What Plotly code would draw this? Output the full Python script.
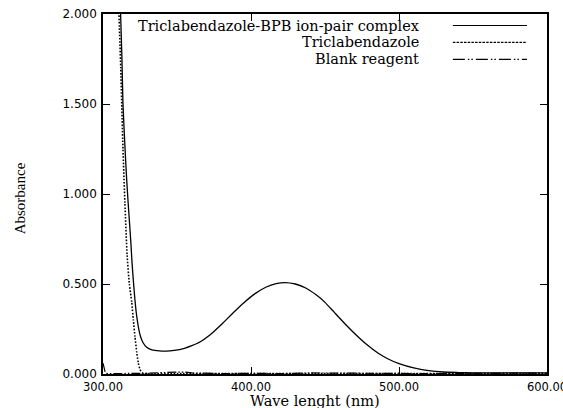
import plotly.graph_objects as go

# ---------------- data ----------------
complex_nm = [310.2, 311.0, 311.9, 312.8, 313.5, 314.9, 316.0, 317.0, 318.0, 318.9,
              319.6, 320.5, 321.6, 322.8, 324.3, 325.4, 327.0, 329.5, 333.0, 338.0,
              343.0, 348.0, 355.0, 360.0, 365.5, 372.0, 380.0, 387.8, 395.0, 403.0,
              410.0, 417.0, 423.0, 430.0, 437.0, 444.0, 450.0, 456.0, 462.0, 470.0,
              478.0, 486.0, 493.0, 500.0, 510.0, 520.0, 530.0, 540.0, 550.0, 570.0,
              590.0, 600.0]
complex_abs = [2.60, 2.30, 2.00, 1.75, 1.50, 1.25, 1.08, 0.95, 0.83, 0.72,
               0.62, 0.52, 0.41, 0.32, 0.244, 0.207, 0.175, 0.148, 0.134, 0.128,
               0.127, 0.131, 0.143, 0.158, 0.178, 0.215, 0.275, 0.339, 0.395, 0.448,
               0.482, 0.502, 0.508, 0.500, 0.478, 0.440, 0.398, 0.345, 0.292, 0.225,
               0.165, 0.115, 0.082, 0.058, 0.034, 0.019, 0.011, 0.008, 0.006, 0.006,
               0.006, 0.006]

tcbz_nm = [309.6, 310.8, 312.0, 313.5, 314.8, 316.3, 317.8, 319.4, 320.5, 321.6,
           322.8, 323.9, 325.0, 326.5, 330.0, 350.0, 400.0, 450.0, 500.0, 550.0, 600.0]
tcbz_abs = [2.40, 2.00, 1.70, 1.25, 0.95, 0.66, 0.50, 0.40, 0.30, 0.207,
            0.120, 0.060, 0.025, 0.006, 0.002, 0.002, 0.002, 0.002, 0.002, 0.002, 0.002]

blank_nm = [300.0, 300.7, 301.5, 303.0, 320.0, 330.0, 340.0, 345.0, 350.0, 355.0,
            360.0, 370.0, 380.0, 400.0, 420.0, 440.0, 460.0, 480.0, 500.0, 520.0,
            540.0, 560.0, 580.0, 590.0, 600.0]
blank_abs = [0.060, 0.030, 0.008, 0.002, 0.001, 0.004, 0.008, 0.010, 0.012, 0.011,
             0.006, 0.003, 0.002, 0.004, 0.002, 0.006, 0.004, 0.003, 0.004, 0.002,
             0.003, 0.004, 0.006, 0.008, 0.005]

x_ticks = [300, 400, 500, 600]
y_ticks = [0.0, 0.5, 1.0, 1.5, 2.0]

legend_names = ["Triclabendazole-BPB ion-pair complex", "Triclabendazole", "Blank reagent"]

# ---------------- styles ----------------
dash_dot = "1.6px,1.6px"
dash_blank = "9px,2px,1.5px,2px,1.5px,2px"
legend_dashes = ["solid", "2.5px,1.2px", "12px,3px,1.5px,2px,1.5px,3px"]

fig = go.Figure()
fig.add_trace(go.Scatter(x=complex_nm, y=complex_abs, mode="lines",
                         line=dict(color="black", width=1.3, shape="spline", smoothing=0.5),
                         name=legend_names[0], showlegend=False))
fig.add_trace(go.Scatter(x=tcbz_nm, y=tcbz_abs, mode="lines",
                         line=dict(color="black", width=1.6, dash=dash_dot, shape="spline", smoothing=0.5),
                         name=legend_names[1], showlegend=False))
fig.add_trace(go.Scatter(x=blank_nm, y=blank_abs, mode="lines",
                         line=dict(color="black", width=1.2, dash=dash_blank),
                         name=legend_names[2], showlegend=False))

axis_common = dict(showline=True, linecolor="black", linewidth=1.5, mirror="ticks",
                   ticks="inside", ticklen=7, tickwidth=1, tickcolor="black",
                   showgrid=False, zeroline=False, automargin=False)

fig.update_xaxes(range=[300, 600], tickvals=x_ticks,
                 ticktext=[f"{v:.2f}" for v in x_ticks], ticklabelstandoff=1,
                 ticklabeloverflow="allow",
                 tickfont=dict(family="DejaVu Sans", size=11.5, color="black"), **axis_common)
fig.update_yaxes(range=[0, 2.0], tickvals=y_ticks,
                 ticktext=[f"{v:.3f}" for v in y_ticks], ticklabelstandoff=2,
                 tickfont=dict(family="DejaVu Sans", size=12, color="black"), **axis_common)

# legend drawn as text + sample lines, right-aligned text like the original
legend_y = [0.968, 0.921, 0.874]
annotations = []
shapes = []
for name, yy, d in zip(legend_names, legend_y, legend_dashes):
    annotations.append(dict(text=name, x=0.716, y=yy, xref="paper", yref="paper",
                            xanchor="right", yanchor="middle", showarrow=False,
                            font=dict(family="DejaVu Serif", size=14.5, color="black")))
    shapes.append(dict(type="line", xref="paper", yref="paper", x0=0.788, x1=0.955,
                       y0=yy, y1=yy, line=dict(color="black", width=1.2, dash=d)))

annotations.append(dict(text="Absorbance", x=(20 - 103) / 444, y=0.488, xref="paper", yref="paper",
                        showarrow=False, textangle=-90, xanchor="center", yanchor="middle",
                        font=dict(family="Liberation Serif", size=15, color="black")))
annotations.append(dict(text="Wave lenght (nm)", x=0.477, y=(374 - 401) / 360, xref="paper", yref="paper",
                        showarrow=False, xanchor="center", yanchor="middle",
                        font=dict(family="DejaVu Serif", size=14.5, color="black")))

fig.update_layout(width=563, height=408,
                  margin=dict(l=103, r=16, t=14, b=34, pad=0),
                  paper_bgcolor="white", plot_bgcolor="white",
                  annotations=annotations, shapes=shapes, showlegend=False)

fig.write_html("out.html")
